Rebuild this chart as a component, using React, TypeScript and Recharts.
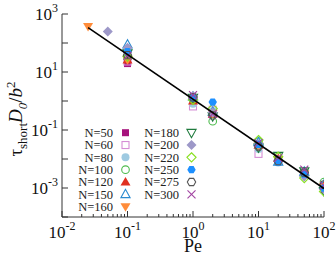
import { ScatterChart, Scatter, XAxis, YAxis } from "recharts";

const peValues = [0.1, 1, 2, 10, 20, 50, 100];

const chainLengths = [50, 60, 80, 100, 120, 150, 160, 180, 200, 220, 250, 275, 300];

// tau_short D0 / b^2 at each Pe in peValues
const tauN50 = [19.5, 1.0, 0.4, 0.03, 0.0095, 0.003, 0.0009];
const tauN60 = [23, 0.65, 0.5, 0.015, 0.0085, 0.0032, 0.0011];
const tauN80 = [40, 0.8, 0.45, 0.022, 0.0075, 0.0028, 0.001];
const tauN100 = [31, 1.2, 0.2, 0.04, 0.012, 0.0035, 0.0016];
const tauN120 = [26, 1.0, 0.35, 0.03, 0.0105, 0.0033, 0.0012];
const tauN150 = [87, 1.4, 0.42, 0.038, 0.008, 0.0036, 0.0013];
const tauN160 = [26, 1.1, 0.38, 0.028, 0.0095, 0.0031, 0.0011];
const tauN180 = [45, 1.3, 0.3, 0.025, 0.013, 0.0038, 0.0008];
const tauN200 = [69, 1.5, 0.4, 0.033, 0.009, 0.0025, 0.0009];
const tauN220 = [34, 1.1, 0.55, 0.045, 0.012, 0.0022, 0.00075];
const tauN250 = [50, 1.25, 0.92, 0.032, 0.0078, 0.003, 0.001];
const tauN275 = [38, 1.35, 0.32, 0.027, 0.0085, 0.0034, 0.0013];
const tauN300 = [36, 1.6, 0.36, 0.035, 0.011, 0.0043, 0.0012];

// extra low-Pe points
const lowPeN160 = { pe: 0.025, tau: 373 };
const lowPeN200 = { pe: 0.05, tau: 251 };

// power-law guide line end points
const fitPe = [0.025, 100];
const fitTau = [340, 0.00096];

const yTicks = [1e-4, 1e-3, 1e-2, 1e-1, 1, 10, 100, 1000];

const FONT = "'Liberation Serif', 'Times New Roman', serif";
const AXIS = "#333";

const seriesStyle = [
  { kind: "squareF", color: "#a6127c" },
  { kind: "squareO", color: "#d58ed5" },
  { kind: "circleF", color: "#9ecae1" },
  { kind: "circleO", color: "#4dbb4d" },
  { kind: "triUpF", color: "#e03020" },
  { kind: "triUpO", color: "#2a8ad0" },
  { kind: "triDownF", color: "#ff8c3a" },
  { kind: "triDownO", color: "#1e7a3c" },
  { kind: "diamondF", color: "#9d98c8" },
  { kind: "diamondO", color: "#88e020" },
  { kind: "hexF", color: "#1e90ff" },
  { kind: "hexO", color: "#555555" },
  { kind: "cross", color: "#a040a0" },
];

const tauSeries = [
  tauN50, tauN60, tauN80, tauN100, tauN120, tauN150, tauN160,
  tauN180, tauN200, tauN220, tauN250, tauN275, tauN300,
];

const series = chainLengths.map((n, i) => {
  const data = peValues.map((pe, j) => ({ pe, tau: tauSeries[i][j] }));
  if (n === 160) data.unshift(lowPeN160);
  if (n === 200) data.unshift(lowPeN200);
  return { n, data, ...seriesStyle[i] };
});

const fitData = fitPe.map((pe, i) => ({ pe, tau: fitTau[i] }));

function minorTicks() {
  const out: number[] = [];
  for (let d = -2; d < 2; d++) {
    for (let m = 1; m < 10; m++) out.push(Number((m * Math.pow(10, d)).toPrecision(3)));
  }
  out.push(100);
  return out;
}

function Marker({ kind, color, cx, cy }: any) {
  if (cx == null || cy == null) return <g />;
  const s = 3.5;
  const sw = 1.1;
  const pts = (a: number[][]) => a.map((p) => `${cx + p[0]},${cy + p[1]}`).join(" ");
  const hex = pts([0, 1, 2, 3, 4, 5].map((k) => {
    const a = (Math.PI / 3) * k;
    return [4.2 * Math.cos(a), 4.2 * Math.sin(a)];
  }));
  switch (kind) {
    case "squareF":
      return <rect x={cx - s} y={cy - s} width={2 * s} height={2 * s} fill={color} />;
    case "squareO":
      return <rect x={cx - s} y={cy - s} width={2 * s} height={2 * s} fill="none" stroke={color} strokeWidth={sw} />;
    case "circleF":
      return <circle cx={cx} cy={cy} r={4} fill={color} />;
    case "circleO":
      return <circle cx={cx} cy={cy} r={3.8} fill="none" stroke={color} strokeWidth={sw} />;
    case "triUpF":
      return <polygon points={pts([[0, -5], [-5, 3.5], [5, 3.5]])} fill={color} />;
    case "triUpO":
      return <polygon points={pts([[0, -5], [-4.6, 3.3], [4.6, 3.3]])} fill="none" stroke={color} strokeWidth={sw} />;
    case "triDownF":
      return <polygon points={pts([[0, 5], [-5, -3.5], [5, -3.5]])} fill={color} />;
    case "triDownO":
      return <polygon points={pts([[0, 5], [-4.6, -3.3], [4.6, -3.3]])} fill="none" stroke={color} strokeWidth={sw} />;
    case "diamondF":
      return <polygon points={pts([[0, -5], [5, 0], [0, 5], [-5, 0]])} fill={color} />;
    case "diamondO":
      return <polygon points={pts([[0, -4.6], [4.6, 0], [0, 4.6], [-4.6, 0]])} fill="none" stroke={color} strokeWidth={sw} />;
    case "hexF":
      return <polygon points={hex} fill={color} />;
    case "hexO":
      return <polygon points={hex} fill="none" stroke={color} strokeWidth={sw} />;
    default:
      return (
        <g stroke={color} strokeWidth={sw}>
          <line x1={cx - 4} y1={cy - 4} x2={cx + 4} y2={cy + 4} />
          <line x1={cx - 4} y1={cy + 4} x2={cx + 4} y2={cy - 4} />
        </g>
      );
  }
}

function isDecade(v: number) {
  const l = Math.log10(v);
  return Math.abs(l - Math.round(l)) < 1e-6;
}

function XTick({ x, y, payload, side }: any) {
  const v = payload.value;
  const major = isDecade(v);
  const len = major ? 6 : 3;
  const dir = side === "top" ? 1 : -1;
  const e = Math.round(Math.log10(v));
  return (
    <g>
      <line x1={x} x2={x} y1={y} y2={y + dir * len} stroke={AXIS} strokeWidth={1} />
      {side !== "top" && major && (
        <text x={x} y={y + 21} textAnchor="middle" fontFamily={FONT} fontSize={17} fill="#111">
          10<tspan dy={-8} fontSize={12}>{e}</tspan>
        </text>
      )}
    </g>
  );
}

function YTick({ x, y, payload, side }: any) {
  const v = payload.value;
  const e = Math.round(Math.log10(v));
  const dir = side === "right" ? -1 : 1;
  const showLabel = side !== "right" && Math.abs(e) % 2 === 1;
  return (
    <g>
      <line x1={x} x2={x + dir * 6} y1={y} y2={y} stroke={AXIS} strokeWidth={1} />
      {showLabel && (
        <text x={x - 4} y={y + 6} textAnchor="end" fontFamily={FONT} fontSize={17} fill="#111">
          10<tspan dy={-8} fontSize={12}>{e}</tspan>
        </text>
      )}
    </g>
  );
}

function LegendBlock() {
  const rowH = 12.33;
  return (
    <g fontFamily={FONT} fontSize={12.5} fill="#222">
      {series.map((s, i) => {
        const col = i < 7 ? 0 : 1;
        const row = i < 7 ? i : i - 7;
        const tx = col === 0 ? 113 : 179;
        const mx = tx + 12.5;
        const cy = 132.7 + row * rowH;
        return (
          <g key={s.n}>
            <text x={tx} y={cy + 4.2} textAnchor="end">{`N=${s.n}`}</text>
            <Marker kind={s.kind} color={s.color} cx={mx} cy={cy} />
          </g>
        );
      })}
    </g>
  );
}

export default function App() {
  const minors = minorTicks();
  return (
    <div style={{ position: "absolute", left: 0, top: 0, width: 336, height: 260, background: "#fff" }}>
      <ScatterChart width={336} height={260} margin={{ top: 14, right: 12, bottom: 0, left: 0 }}>
        <XAxis
          type="number"
          dataKey="pe"
          scale="log"
          domain={[0.01, 100]}
          allowDataOverflow
          ticks={minors}
          interval={0}
          tickSize={0}
          tickMargin={0}
          tickLine={false}
          height={43}
          axisLine={{ stroke: AXIS }}
          tick={(p: any) => <XTick {...p} side="bottom" />}
        />
        <XAxis
          xAxisId="top"
          orientation="top"
          type="number"
          dataKey="pe"
          scale="log"
          domain={[0.01, 100]}
          allowDataOverflow
          ticks={minors}
          interval={0}
          tickSize={0}
          tickMargin={0}
          tickLine={false}
          height={0}
          axisLine={{ stroke: AXIS }}
          tick={(p: any) => <XTick {...p} side="top" />}
        />
        <YAxis
          type="number"
          dataKey="tau"
          scale="log"
          domain={[1e-4, 1e3]}
          allowDataOverflow
          ticks={yTicks}
          interval={0}
          tickSize={0}
          tickMargin={0}
          tickLine={false}
          width={62}
          axisLine={{ stroke: AXIS }}
          tick={(p: any) => <YTick {...p} side="left" />}
        />
        <YAxis
          yAxisId="right"
          orientation="right"
          type="number"
          dataKey="tau"
          scale="log"
          domain={[1e-4, 1e3]}
          allowDataOverflow
          ticks={yTicks}
          interval={0}
          tickSize={0}
          tickMargin={0}
          tickLine={false}
          width={0}
          axisLine={{ stroke: AXIS }}
          tick={(p: any) => <YTick {...p} side="right" />}
        />
        {series.map((s) => (
          <Scatter
            key={s.n}
            name={`N=${s.n}`}
            data={s.data}
            isAnimationActive={false}
            shape={(p: any) => <Marker kind={s.kind} color={s.color} cx={p.cx} cy={p.cy} />}
          />
        ))}
        <Scatter
          data={fitData}
          isAnimationActive={false}
          line={{ stroke: "#000", strokeWidth: 1.6 }}
          shape={() => <g />}
        />
        <LegendBlock />
        <text x={193} y={252} textAnchor="middle" fontFamily={FONT} fontSize={18} fill="#111">Pe</text>
        <text
          transform="translate(22,119) rotate(-90)"
          textAnchor="middle"
          fontFamily={FONT}
          fontSize={19}
          fill="#111"
        >
          τ<tspan fontSize={13} dy={5}>short</tspan>
          <tspan fontStyle="italic" dy={-5}>D</tspan>
          <tspan fontSize={13} fontStyle="italic" dy={5}>0</tspan>
          <tspan dy={-5}>/</tspan>
          <tspan fontStyle="italic">b</tspan>
          <tspan fontSize={13} dy={-7}>2</tspan>
        </text>
      </ScatterChart>
    </div>
  );
}
